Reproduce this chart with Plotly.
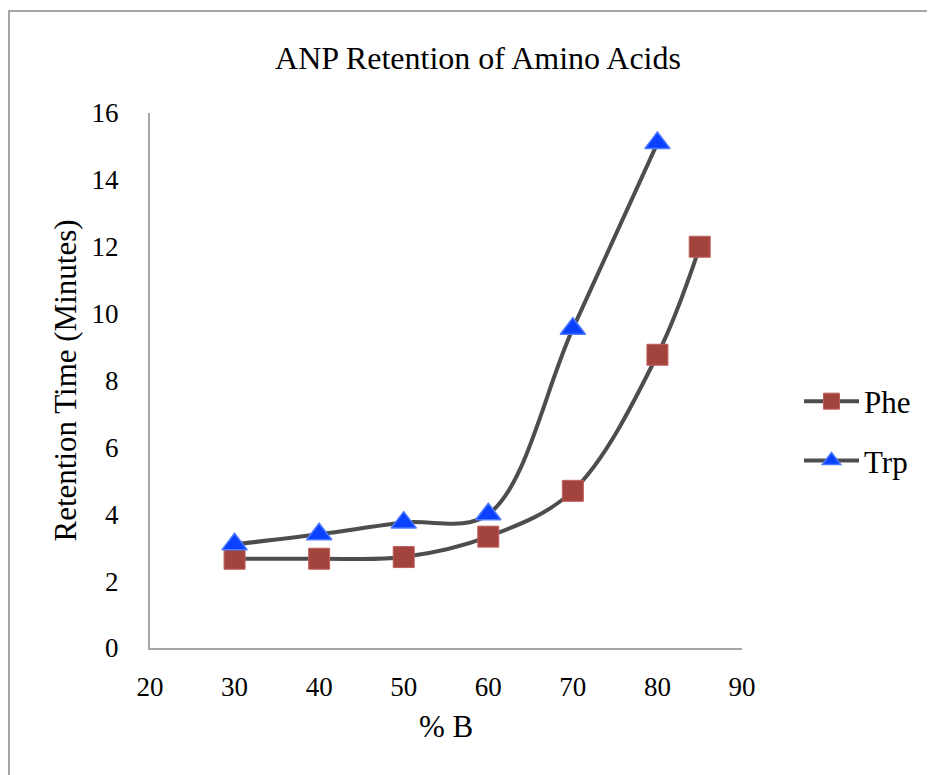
import plotly.graph_objects as go

pct_b = [30, 40, 50, 60, 70, 80, 85]
phe = [2.67, 2.67, 2.72, 3.33, 4.70, 8.77, 12.0]
pct_b_trp = [30, 40, 50, 60, 70, 80]
trp = [3.10, 3.40, 3.75, 4.00, 9.55, 15.10]

x_ticks = [20, 30, 40, 50, 60, 70, 80, 90]
y_ticks = [0, 2, 4, 6, 8, 10, 12, 14, 16]

FONT = "Liberation Serif"
LINE = "#4D4D4D"

# page body has an 8px margin: figure pixel p appears at p + 8 in the screenshot
L, R, T, B = 142, 935 - 734, 105, 775 - 640
PW, PH = 734 - 142, 640 - 105

fig = go.Figure()
fig.add_trace(go.Scatter(
    x=pct_b, y=phe, name="Phe", mode="lines+markers", legendgroup="phe",
    line=dict(color=LINE, width=4, shape="spline", smoothing=1),
    marker=dict(symbol="square", size=21, color="#A3433D",
                line=dict(color="#C0605A", width=1)),
))
fig.add_trace(go.Scatter(
    x=pct_b_trp, y=trp, name="Trp", mode="lines+markers", legendgroup="trp",
    line=dict(color=LINE, width=4, shape="spline", smoothing=1),
    marker=dict(symbol="triangle-up", size=22, color="#0A40FF",
                line=dict(color="#4D7BFF", width=1.5)),
))

fig.update_layout(
    width=935, height=775,
    margin=dict(l=L, r=R, t=T, b=B),
    paper_bgcolor="white", plot_bgcolor="white",
    font=dict(family=FONT, color="black", size=27),
    title=dict(text="ANP Retention of Amino Acids", x=(470 - L) / PW, xanchor="center",
               xref="paper", y=1 - 50 / 775, yanchor="middle",
               font=dict(family=FONT, size=32, color="black")),
    showlegend=True,
    legend=dict(x=1 + (791 - 734) / PW, xanchor="left", y=(640 - 423) / PH, yanchor="middle",
                font=dict(family=FONT, size=31, color="black"),
                traceorder="grouped", tracegroupgap=16,
                itemwidth=55, bgcolor="rgba(0,0,0,0)"),
)

fig.update_xaxes(
    range=[20, 90], tickvals=x_ticks, ticktext=[str(v) for v in x_ticks],
    showgrid=False, zeroline=False,
    showline=True, linecolor="#A6A6A6", linewidth=2,
    ticks="outside", ticklen=14, tickcolor="rgba(0,0,0,0)",
    tickfont=dict(family=FONT, size=27, color="black"),
    title=dict(text="% B", font=dict(family=FONT, size=31, color="black"), standoff=14),
)
fig.update_yaxes(
    range=[0, 16], tickvals=y_ticks, ticktext=[str(v) for v in y_ticks],
    showgrid=False, zeroline=False,
    showline=True, linecolor="#A6A6A6", linewidth=2,
    ticks="outside", ticklen=24, tickcolor="rgba(0,0,0,0)",
    tickfont=dict(family=FONT, size=27, color="black"),
    title=dict(text="Retention Time (Minutes)", font=dict(family=FONT, size=31, color="black"), standoff=6),
)

# outer chart frame (extends past the right and bottom edges)
fig.add_shape(type="rect", xref="paper", yref="paper",
              x0=(1 - L) / PW, x1=2.0, y0=-1.0, y1=(640 - 3) / PH,
              line=dict(color="#A6A6A6", width=2), fillcolor="rgba(0,0,0,0)",
              layer="below")

fig.write_html("out.html")
